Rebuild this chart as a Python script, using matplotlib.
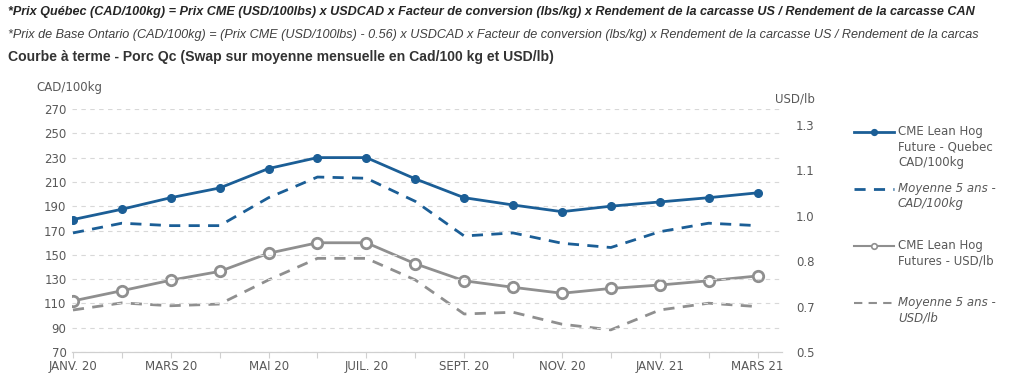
import matplotlib.pyplot as plt
import numpy as np
from matplotlib.lines import Line2D

months = ['JANV. 20', 'FÉVR. 20', 'MARS 20', 'AVR. 20', 'MAI 20', 'JUIN 20', 'JUIL. 20',
          'AOÛT 20', 'SEPT. 20', 'OCT. 20', 'NOV. 20', 'DÉC. 20', 'JANV. 21', 'FÉVR. 21', 'MARS 21']

# CAD/100kg (left axis)
qc_future = [179, 187.5, 197, 205, 221, 230, 230, 212.5, 197, 191, 185.5, 190, 193.5, 197, 201]
qc_avg5 = [168, 176, 174, 174, 197, 214, 213, 194, 165.5, 168, 159.5, 156, 169, 176, 174]
# USD/lb (right axis)
cme_future = [0.680, 0.716, 0.753, 0.784, 0.848, 0.885, 0.885, 0.811, 0.751, 0.728, 0.707,
              0.724, 0.736, 0.751, 0.768]
cme_avg5 = [0.648, 0.673, 0.663, 0.669, 0.754, 0.830, 0.830, 0.754, 0.634, 0.640, 0.598,
            0.578, 0.648, 0.672, 0.660]

left_ticks = np.arange(70, 271, 20)
right_ticks = np.linspace(0.5, 1.3, 6)

blue = '#1b5e96'
grey = '#8f8f8f'
txt = '#595959'

fig = plt.figure(figsize=(10.24, 3.86), dpi=100)
ax = fig.add_axes([72/1024, 34/386, 710/1024, 243/386])
ax2 = ax.twinx()

x = np.arange(len(months))
ax.plot(x, qc_future, color=blue, lw=2, marker='o', ms=5.5)
ax.plot(x, qc_avg5, color=blue, lw=2, ls=(0, (4, 3)))
ax2.plot(x, cme_future, color=grey, lw=2, marker='o', ms=7.5, mfc='white', mec=grey, mew=2)
ax2.plot(x, cme_avg5, color=grey, lw=2, ls=(0, (4, 3)))

ax.set_xlim(-0.02, 14.5)
ax.set_ylim(70, 270)
ax2.set_ylim(0.5, 1.3 + 16/227*0.8)
ax.set_yticks(left_ticks)
ax2.set_yticks(right_ticks)
ax2.set_yticklabels(['%.1f' % v for v in right_ticks])
ax.set_xticks(x)
ax.set_xticklabels([m if i % 2 == 0 else '' for i, m in enumerate(months)])

for a in (ax, ax2):
    for s in ['top', 'right', 'left']:
        a.spines[s].set_visible(False)
    a.spines['bottom'].set_color('#d0d0d0')
    a.tick_params(axis='y', length=0, labelsize=8.5, labelcolor=txt, pad=4)
ax.tick_params(axis='x', length=4, color='#d0d0d0', labelsize=8.5, labelcolor=txt, pad=2)
ax2.tick_params(axis='y', pad=10)
ax.grid(axis='y', color='#d8d8d8', ls=(0, (4, 4)), lw=0.8)
ax.set_axisbelow(True)
ax.set_zorder(ax2.get_zorder() + 1)
ax.patch.set_visible(False)

fig.text(36/1024, 1 - 88/386, 'CAD/100kg', fontsize=8.5, color=txt, va='center')
fig.text(775/1024, 1 - 99/386, 'USD/lb', fontsize=8.5, color=txt, va='center')

# legend
leg = [
    (blue, '-', True, 'CME Lean Hog\nFuture - Quebec\nCAD/100kg', 132, False),
    (blue, (0, (4, 3)), False, 'Moyenne 5 ans -\nCAD/100kg', 189, True),
    (grey, '-', True, 'CME Lean Hog\nFutures - USD/lb', 246, False),
    (grey, (0, (4, 3)), False, 'Moyenne 5 ans -\nUSD/lb', 303, True),
]
for col, ls, mk, lab, yp, ital in leg:
    yf = 1 - yp/386
    kw = {}
    if mk:
        kw = dict(marker='o', markevery=[1], ms=4, mfc=col if col == blue else 'white', mec=col, mew=1.2)
    fig.add_artist(Line2D([854/1024, 874/1024, 894/1024], [yf, yf, yf], transform=fig.transFigure,
                          color=col, lw=2 if col == blue else 1.5, ls=ls, **kw))
    fig.text(898/1024, yf + 7/386, lab, fontsize=8.5, color=txt, va='top', linespacing=1.25,
             style='italic' if ital else 'normal')

# header lines, shrunk to the width they take in the reference
heads = [
    ('*Prix Québec (CAD/100kg) = Prix CME (USD/100lbs) x USDCAD x Facteur de conversion (lbs/kg) x Rendement de la carcasse US / Rendement de la carcasse CAN',
     12, 'bold', 'italic', '#262626', 980),
    ('*Prix de Base Ontario (CAD/100kg) = (Prix CME (USD/100lbs) - 0.56) x USDCAD x Facteur de conversion (lbs/kg) x Rendement de la carcasse US / Rendement de la carcas',
     35, 'normal', 'italic', '#404040', 985),
    ('Courbe à terme - Porc Qc (Swap sur moyenne mensuelle en Cad/100 kg et USD/lb)',
     57, 'bold', 'normal', '#333333', 555),
]
rend = fig.canvas.get_renderer()
for s, yp, w, st, c, xend in heads:
    t = fig.text(8/1024, 1 - yp/386, s, family='Liberation Sans', fontsize=10, weight=w,
                 style=st, color=c, va='center')
    wpx = t.get_window_extent(rend).width
    t.set_fontsize(10 * (xend - 8) / wpx)

fig.savefig('out.png', dpi=100)
